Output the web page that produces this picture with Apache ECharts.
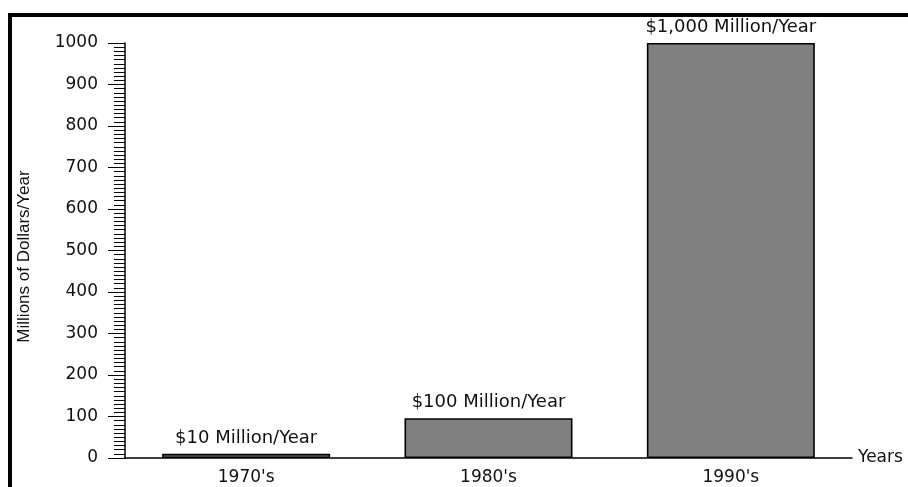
<!DOCTYPE html>
<html>
<head>
<meta charset="utf-8">
<script src="https://cdn.jsdelivr.net/npm/echarts@6/dist/echarts.min.js"></script>
<style>
  html, body { margin: 0; padding: 0; background: #fff; }
  #chart { width: 908px; height: 487px; }
</style>
</head>
<body>
<div id="chart"></div>
<script>
const decades = ["1970's", "1980's", "1990's"];
const spending = [10, 96, 1000];
const barLabels = ["$10 Million/Year", "$100 Million/Year", "$1,000 Million/Year"];

const ink = "#111";
const font = "DejaVu Sans";

const chart = echarts.init(document.getElementById("chart"));

chart.setOption({
  animation: false,
  grid: { left: 125, right: 56, top: 43, bottom: 29 },
  graphic: [
    {
      type: "polyline",
      shape: { points: [[10, 487], [10, 15], [908, 15]] },
      style: { stroke: "#000", lineWidth: 4, fill: null },
      silent: true,
    },
  ],
  xAxis: {
    type: "category",
    data: decades,
    name: "Years",
    nameLocation: "end",
    nameGap: 6,
    nameTextStyle: { color: ink, fontFamily: font, fontSize: 17 },
    axisLine: { lineStyle: { color: "#000", width: 1.5 } },
    axisTick: { show: false },
    axisLabel: { color: ink, fontFamily: font, fontSize: 17, margin: 11 },
  },
  yAxis: {
    type: "value",
    min: 0,
    max: 1000,
    interval: 100,
    name: "Millions of Dollars/Year",
    nameLocation: "middle",
    nameGap: 92,
    nameTextStyle: { color: ink, fontFamily: "Liberation Sans", fontSize: 17, padding: [0, 12, 0, 0] },
    axisLine: { show: true, lineStyle: { color: "#000", width: 1.5 } },
    axisTick: { show: true, length: 17, lineStyle: { color: "#000", width: 1 } },
    minorTick: { show: true, splitNumber: 10, length: 11, lineStyle: { color: "#000", width: 1 } },
    splitLine: { show: false },
    axisLabel: { color: ink, fontFamily: font, fontSize: 17, margin: 27, formatter: (v) => String(v) },
  },
  series: [
    {
      type: "bar",
      data: spending,
      barWidth: 168,
      itemStyle: { color: "#808080", borderColor: "#000", borderWidth: 1.6 },
      label: {
        show: true,
        position: "top",
        distance: 7,
        color: ink,
        fontFamily: font,
        fontSize: 18,
        formatter: (p) => barLabels[p.dataIndex],
      },
    },
  ],
});
</script>
</body>
</html>
